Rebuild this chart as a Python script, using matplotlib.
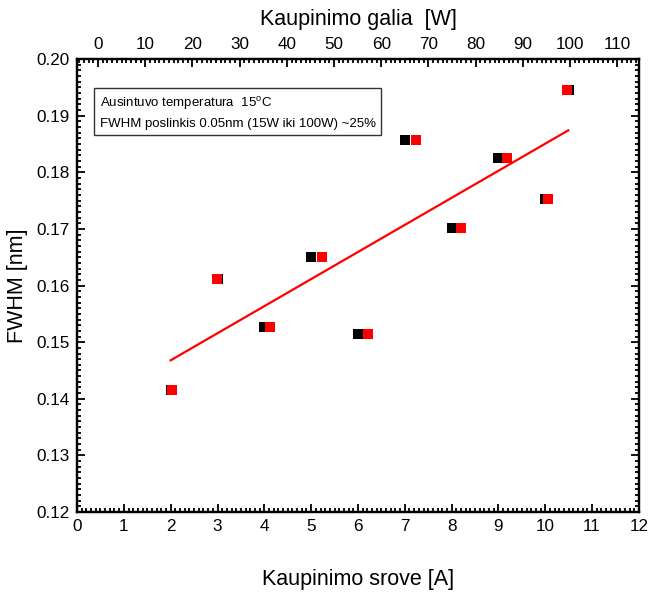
import matplotlib
matplotlib.use("Agg")
import matplotlib.pyplot as plt
from matplotlib.ticker import MultipleLocator

plt.rcParams['font.family'] = ['Liberation Sans', 'DejaVu Sans']
plt.rcParams['mathtext.fontset'] = 'custom'
plt.rcParams['mathtext.rm'] = 'Liberation Sans'

# Data
current_A = [2.0, 3.0, 4.0, 5.0, 6.0, 7.0, 8.0, 9.0, 10.0, 10.5]
power_W = [15.6, 25.1, 36.4, 47.4, 57.2, 67.4, 77.0, 86.7, 95.3, 99.4]
fwhm_nm = [0.1415, 0.1612, 0.1526, 0.1651, 0.1515, 0.1857, 0.1702, 0.1826, 0.1753, 0.1946]
fit_x = [2.0, 10.49]
fit_y = [0.1468, 0.1874]

bottom_ticks = list(range(0, 13))
top_ticks = list(range(0, 111, 10))
y_ticks = [0.12, 0.13, 0.14, 0.15, 0.16, 0.17, 0.18, 0.19, 0.20]

fig = plt.figure(figsize=(6.5, 5.92), dpi=100)
ax = fig.add_axes([0.1185, 0.135, 0.8645, 0.7653])

ax.plot(current_A, fwhm_nm, linestyle='none', marker='s', markersize=7.3,
        markerfacecolor='black', markeredgewidth=0, color='black', zorder=3)
ax.plot(fit_x, fit_y, color='#ff0000', linewidth=1.6, zorder=4)

ax.set_xlim(0, 12)
ax.set_ylim(0.12, 0.20)
ax.set_xticks(bottom_ticks)
ax.set_yticks(y_ticks)
ax.set_yticklabels([f"{v:.2f}" for v in y_ticks])
ax.xaxis.set_minor_locator(MultipleLocator(0.1))
ax.yaxis.set_minor_locator(MultipleLocator(0.001))
ax.tick_params(which='both', direction='in', top=False, right=True, labelsize=12.3, width=1.3)
ax.tick_params(which='major', length=5.5, pad=5)
ax.tick_params(which='minor', length=3)
for s in ax.spines.values():
    s.set_linewidth(1.6)

ax.set_xlabel("Kaupinimo srove [A]", fontsize=15.5, labelpad=25)
ax.set_ylabel("FWHM [nm]", fontsize=15.5, labelpad=6)

ax2 = ax.twiny()
ax2.plot(power_W, fwhm_nm, linestyle='none', marker='s', markersize=7.3,
         markerfacecolor='#ff0000', markeredgewidth=0, color='#ff0000', zorder=5)
ax2.set_xlim(-4.45, 114.6)
ax2.set_xticks(top_ticks)
ax2.xaxis.set_minor_locator(MultipleLocator(1))
ax2.tick_params(which='both', direction='in', labelsize=12.3, width=1.3)
ax2.tick_params(which='major', length=5.5, pad=5)
ax2.tick_params(which='minor', length=3)
ax2.set_xlabel("Kaupinimo galia  [W]", fontsize=15.5, labelpad=9)
for s in ax2.spines.values():
    s.set_linewidth(1.6)

ax.text(0.040, 0.920,
        "Ausintuvo temperatura  15$^\\mathregular{o}$C\nFWHM poslinkis 0.05nm (15W iki 100W) ~25%",
        transform=ax.transAxes, fontsize=9.5, va='top', ha='left', linespacing=1.65,
        bbox=dict(boxstyle='square,pad=0.4', facecolor='white', edgecolor='#333333', linewidth=1.0),
        zorder=6)

fig.savefig("out.png", dpi=100)
